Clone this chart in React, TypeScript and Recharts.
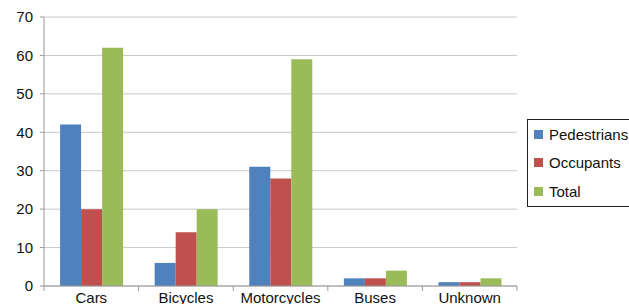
import { BarChart, Bar, XAxis, YAxis, CartesianGrid } from "recharts";

const categories = ["Cars", "Bicycles", "Motorcycles", "Buses", "Unknown"];
const pedestrians = [42, 6, 31, 2, 1];
const occupants = [20, 14, 28, 2, 1];
const total = [62, 20, 59, 4, 2];
const yTicks = [0, 10, 20, 30, 40, 50, 60, 70];

const SERIES = [
  { key: "pedestrians", label: "Pedestrians", color: "#4F81BD" },
  { key: "occupants", label: "Occupants", color: "#C0504D" },
  { key: "total", label: "Total", color: "#9BBB59" },
];

const data = categories.map((name, i) => ({
  name,
  pedestrians: pedestrians[i],
  occupants: occupants[i],
  total: total[i],
}));

const FONT = "'Liberation Sans', Arial, Helvetica, sans-serif";
const PLOT_LEFT = 44;
const PLOT_RIGHT = 517;
const BAND = (PLOT_RIGHT - PLOT_LEFT) / categories.length;

// eslint-disable-next-line @typescript-eslint/no-explicit-any
function XTick({ x, y, payload, index }: any) {
  const left = x - BAND / 2;
  const right = x + BAND / 2;
  return (
    <g>
      <line x1={left} x2={left} y1={y - 6} y2={y - 1} stroke="#999" />
      {index === categories.length - 1 && (
        <line x1={right} x2={right} y1={y - 6} y2={y - 1} stroke="#999" />
      )}
      <text x={x} y={y} dy="0.71em" textAnchor="middle" fontSize={15} fill="#111" fontFamily={FONT}>
        {payload.value}
      </text>
    </g>
  );
}

export default function App() {
  return (
    <div
      style={{
        position: "absolute",
        left: 0,
        top: 0,
        width: 629,
        height: 304,
        overflow: "hidden",
        background: "#fff",
        fontFamily: FONT,
      }}
    >
      <BarChart
        width={629}
        height={304}
        data={data}
        margin={{ top: 17, right: 629 - PLOT_RIGHT, bottom: 0, left: 0 }}
        barCategoryGap="17%"
        barGap={0}
      >
        <CartesianGrid vertical={false} stroke="#c8c8c8" />
        <XAxis
          dataKey="name"
          height={18}
          axisLine={{ stroke: "#999" }}
          tickLine={false}
          tickSize={4}
          tickMargin={2}
          tick={<XTick />}
          interval={0}
        />
        <YAxis
          width={PLOT_LEFT}
          domain={[0, 70]}
          ticks={yTicks}
          interval={0}
          axisLine={{ stroke: "#999" }}
          tickLine={{ stroke: "#999" }}
          tickSize={4}
          tickMargin={7}
          tick={{ fontSize: 15, fill: "#111", fontFamily: FONT }}
        />
        {SERIES.map((s) => (
          <Bar key={s.key} dataKey={s.key} name={s.label} fill={s.color} isAnimationActive={false} />
        ))}
      </BarChart>

      {/* Legend */}
      <div
        style={{
          position: "absolute",
          left: 527,
          top: 119,
          width: 120,
          height: 88,
          border: "1px solid #222",
          boxSizing: "border-box",
          paddingTop: 0,
        }}
      >
        {SERIES.map((s) => (
          <div
            key={s.key}
            style={{ display: "flex", alignItems: "center", height: 28.5, paddingLeft: 6, fontSize: 15, color: "#111" }}
          >
            <span style={{ width: 9, height: 9, background: s.color, display: "inline-block", marginRight: 6 }} />
            {s.label}
          </div>
        ))}
      </div>
    </div>
  );
}
